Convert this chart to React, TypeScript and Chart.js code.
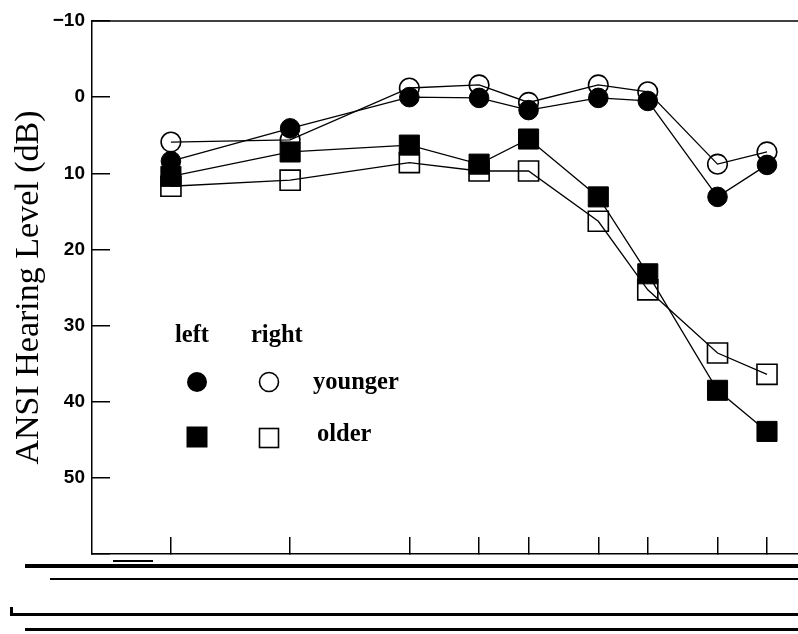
import React, { useEffect, useRef } from 'react';
import { Chart, registerables } from 'chart.js';

Chart.register(...registerables);

// Audiometric test frequencies (Hz)
const FREQUENCIES = [250, 500, 1000, 1500, 2000, 3000, 4000, 6000, 8000];

// Hearing levels (dB HL)
const YOUNGER_LEFT = [8.4, 4.1, 0, 0.1, 1.7, 0.1, 0.5, 13.1, 8.9];
const YOUNGER_RIGHT = [5.9, 5.6, -1.2, -1.6, 0.7, -1.6, -0.7, 8.8, 7.2];
const OLDER_LEFT = [10.4, 7.2, 6.3, 8.8, 5.5, 13.1, 23.2, 38.5, 43.9];
const OLDER_RIGHT = [11.7, 10.9, 8.6, 9.7, 9.7, 16.3, 25.3, 33.6, 36.4];

// Y axis ticks (reversed audiogram scale)
const Y_TICKS = [-10, 0, 10, 20, 30, 40, 50, 60];
const Y_TICK_LABELS = ['\u221210', '0', '10', '20', '30', '40', '50', ''];

const LEGEND_COLUMNS = ['left', 'right'];
const LEGEND_ROWS = ['younger', 'older'];

const Y_TITLE = 'ANSI Hearing Level (dB)';

const makeDataset = (label: string, values: number[], style: string, filled: boolean) => ({
  label,
  data: FREQUENCIES.map((f, i) => ({ x: f, y: values[i] })),
  borderColor: '#000',
  borderWidth: 1.3,
  pointStyle: style,
  pointRadius: style === 'circle' ? 9.8 : 14.2,
  pointBackgroundColor: filled ? '#000' : 'rgba(0,0,0,0)',
  pointBorderColor: '#000',
  pointBorderWidth: filled ? 1 : 1.6,
  fill: false,
  tension: 0,
});

const zeroPadding = (s: any) => {
  s.paddingTop = 0;
  s.paddingBottom = 0;
  s.paddingLeft = 0;
  s.paddingRight = 0;
};

const decorPlugin = {
  id: 'decor',
  afterDraw(chart: any) {
    const { ctx, chartArea } = chart;
    const { left, top, right } = chartArea;
    ctx.save();
    // top frame line
    ctx.strokeStyle = '#000';
    ctx.lineWidth = 1.5;
    ctx.beginPath();
    ctx.moveTo(left, top);
    ctx.lineTo(right, top);
    ctx.stroke();

    // legend block (inside plot)
    const colX = [left + 105, left + 177];
    const rowY = [top + 361, top + 416];
    ctx.fillStyle = '#000';
    ctx.font = 'bold 24.5px "Liberation Serif", "Times New Roman", serif';
    ctx.textBaseline = 'alphabetic';
    ctx.textAlign = 'left';
    const headX = [left + 83, left + 159];
    LEGEND_COLUMNS.forEach((t, i) => ctx.fillText(t, headX[i], top + 321));
    const rowTextX = [left + 221, left + 225];
    const rowBase = [top + 368, top + 420];
    LEGEND_ROWS.forEach((t, i) => ctx.fillText(t, rowTextX[i], rowBase[i]));

    // symbols
    ctx.lineWidth = 1.6;
    ctx.beginPath();
    ctx.arc(colX[0], rowY[0], 10, 0, Math.PI * 2);
    ctx.fill();
    ctx.beginPath();
    ctx.arc(colX[1], rowY[0], 9.5, 0, Math.PI * 2);
    ctx.stroke();
    ctx.fillRect(colX[0] - 10.5, rowY[1] - 10.5, 21, 21);
    ctx.strokeRect(colX[1] - 9.5, rowY[1] - 8.5, 19, 19);

    // scan remnants below the axis
    ctx.fillRect(25, 564, 773, 4);
    ctx.fillRect(113, 560, 40, 2);
    ctx.fillRect(50, 578, 748, 2);
    ctx.fillRect(10, 607, 3, 9);
    ctx.fillRect(10, 613, 788, 3);
    ctx.fillRect(25, 628, 773, 3);
    ctx.restore();
  },
};

export default function App() {
  const ref = useRef<HTMLCanvasElement>(null);

  useEffect(() => {
    if (!ref.current) return;
    const chart = new Chart(ref.current, {
      type: 'line',
      data: {
        datasets: [
          makeDataset('younger left', YOUNGER_LEFT, 'circle', true),
          makeDataset('older left', OLDER_LEFT, 'rect', true),
          makeDataset('younger right', YOUNGER_RIGHT, 'circle', false),
          makeDataset('older right', OLDER_RIGHT, 'rect', false),
        ] as any,
      },
      options: {
        responsive: false,
        animation: false,
        devicePixelRatio: 1,
        events: [],
        layout: { autoPadding: false, padding: { left: 0, top: 21, right: 0, bottom: 80 } },
        plugins: {
          legend: { display: false },
          tooltip: { enabled: false },
          title: { display: false },
        },
        scales: {
          x: {
            type: 'logarithmic',
            position: 'bottom',
            min: 158,
            max: 9580,
            afterBuildTicks: (s: any) => {
              s.ticks = FREQUENCIES.map((v) => ({ value: v }));
            },
            afterFit: (s: any) => {
              s.height = 0;
              zeroPadding(s);
            },
            ticks: { display: false },
            grid: {
              drawOnChartArea: false,
              drawTicks: true,
              tickLength: -17,
              color: '#000',
              lineWidth: 1.5,
            },
            border: { display: true, color: '#000', width: 1.5 },
          },
          y: {
            type: 'linear',
            reverse: true,
            min: -10,
            max: 60,
            afterBuildTicks: (s: any) => {
              s.ticks = Y_TICKS.map((v) => ({ value: v }));
            },
            afterFit: (s: any) => {
              s.width = 92;
              zeroPadding(s);
            },
            ticks: {
              callback: (v: any) => {
                const i = Y_TICKS.indexOf(Number(v));
                return i >= 0 ? Y_TICK_LABELS[i] : '';
              },
              color: '#000',
              font: { family: '"Liberation Sans", Arial, sans-serif', size: 19, weight: 'bold' },
              padding: 25,
            },
            grid: {
              drawOnChartArea: false,
              drawTicks: true,
              tickLength: -18,
              color: '#000',
              lineWidth: 1.5,
            },
            border: { display: true, color: '#000', width: 1.5 },
            title: {
              display: true,
              text: Y_TITLE,
              color: '#000',
              font: { family: '"Liberation Serif", "Times New Roman", serif', size: 34, weight: 'normal' },
              padding: { top: 9, bottom: 0 },
            },
          },
        },
      } as any,
      plugins: [decorPlugin],
    });
    return () => chart.destroy();
  }, []);

  return (
    <div style={{ position: 'absolute', left: 0, top: 0, width: 798, height: 634, background: '#fff' }}>
      <canvas ref={ref} width={798} height={634} style={{ display: 'block' }} />
    </div>
  );
}
